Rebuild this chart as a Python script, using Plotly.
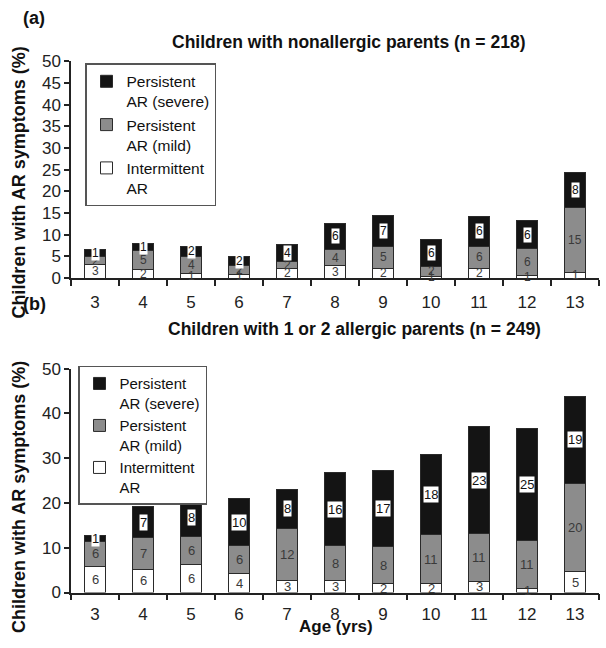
import plotly.graph_objects as go

W, H = 606, 648

ages = ["3", "4", "5", "6", "7", "8", "9", "10", "11", "12", "13"]

# Panel (a): children with nonallergic parents (% heights)
a_int = [3.1, 2.0, 1.1, 0.9, 2.3, 2.8, 2.3, 0.4, 2.2, 0.7, 1.3]
a_mild = [1.9, 4.4, 3.9, 1.9, 1.6, 3.8, 5.0, 2.3, 5.2, 6.1, 15.0]
a_sev = [1.5, 1.5, 2.4, 2.3, 3.8, 6.1, 7.1, 6.3, 6.9, 6.5, 8.1]
# counts printed in the segments
a_int_lab = ["3", "2", "1", "1", "2", "3", "2", "1", "2", "1", "1"]
a_mild_lab = ["2", "5", "4", "2", "2", "4", "5", "2", "6", "6", "15"]
a_sev_lab = ["1", "1", "2", "2", "4", "6", "7", "6", "6", "6", "8"]

# Panel (b): children with 1 or 2 allergic parents
b_int = [5.8, 5.2, 6.3, 4.2, 2.8, 2.7, 2.0, 2.0, 2.5, 0.9, 4.6]
b_mild = [5.7, 7.0, 6.2, 6.2, 11.6, 7.7, 8.3, 10.9, 10.6, 10.8, 19.8]
b_sev = [1.3, 7.0, 8.3, 10.7, 8.7, 16.3, 17.0, 18.0, 24.0, 25.0, 19.4]
b_int_lab = ["6", "6", "6", "4", "3", "3", "2", "2", "3", "1", "5"]
b_mild_lab = ["6", "7", "6", "6", "12", "8", "8", "11", "11", "11", "20"]
b_sev_lab = ["1", "7", "8", "10", "8", "16", "17", "18", "23", "25", "19"]

series_names = ["Persistent<br>AR (severe)", "Persistent<br>AR (mild)", "Intermittent<br>AR"]
colors = {"sev": "#141414", "mild": "#8c8c8c", "int": "#ffffff"}

FONT = "Liberation Sans, Arial, Helvetica, sans-serif"

fig = go.Figure()


def add_panel(xa, ya, legend, ints, milds, sevs):
    for key, vals, name in [("int", ints, series_names[2]),
                            ("mild", milds, series_names[1]),
                            ("sev", sevs, series_names[0])]:
        fig.add_trace(go.Bar(
            x=ages, y=vals, name=name, xaxis=xa, yaxis=ya, legend=legend,
            marker=dict(color=colors[key], line=dict(color="#2a2a2a", width=1)),
            hoverinfo="skip",
        ))


add_panel("x", "y", "legend", a_int, a_mild, a_sev)
add_panel("x2", "y2", "legend2", b_int, b_mild, b_sev)

annotations = []


def add_labels(xr, yr, ints, milds, sevs, il, ml, sl, fs):
    for i in range(len(ages)):
        base = 0.0
        for vals, labs, kind in [(ints, il, "int"), (milds, ml, "mild"), (sevs, sl, "sev")]:
            mid = base + vals[i] / 2.0
            base += vals[i]
            if kind == "sev":
                annotations.append(dict(
                    x=i, y=mid, xref=xr, yref=yr, text=labs[i], showarrow=False,
                    font=dict(family=FONT, size=fs, color="#111"),
                    bgcolor="#ffffff", borderpad=0))
            else:
                annotations.append(dict(
                    x=i, y=mid, xref=xr, yref=yr, text=labs[i], showarrow=False,
                    font=dict(family=FONT, size=fs, color="#3a3a3a")))


add_labels("x", "y", a_int, a_mild, a_sev, a_int_lab, a_mild_lab, a_sev_lab, 12)
add_labels("x2", "y2", b_int, b_mild, b_sev, b_int_lab, b_mild_lab, b_sev_lab, 13)


def px(xp):
    return xp / W


def py(yp):
    # vertical placement in page pixels (calibrated to the rendered picture)
    return 1 - ((yp - 8.5) / 0.9756) / H


# panel letters and titles
annotations += [
    dict(text="<b>(a)</b>", x=px(21), y=py(18), xref="paper", yref="paper",
         xanchor="left", yanchor="middle", showarrow=False,
         font=dict(family=FONT, size=18, color="#111")),
    dict(text="<b>Children with nonallergic parents (n = 218)</b>", x=px(348), y=py(42),
         xref="paper", yref="paper", xanchor="center", yanchor="middle", showarrow=False,
         font=dict(family=FONT, size=17.5, color="#111")),
    dict(text="<b>(b)</b>", x=px(21), y=py(305), xref="paper", yref="paper",
         xanchor="left", yanchor="middle", showarrow=False,
         font=dict(family=FONT, size=18, color="#111")),
    dict(text="<b>Children with 1 or 2 allergic parents (n = 249)</b>", x=px(354), y=py(330),
         xref="paper", yref="paper", xanchor="center", yanchor="middle", showarrow=False,
         font=dict(family=FONT, size=17.5, color="#111")),
    dict(text="<b>Children with AR symptoms (%)</b>", x=px(19), y=py(183), textangle=-90,
         xref="paper", yref="paper", xanchor="center", yanchor="middle", showarrow=False,
         font=dict(family=FONT, size=18, color="#111")),
    dict(text="<b>Children with AR symptoms (%)</b>", x=px(19), y=py(499), textangle=-90,
         xref="paper", yref="paper", xanchor="center", yanchor="middle", showarrow=False,
         font=dict(family=FONT, size=18, color="#111")),
    dict(text="<b>Age (yrs)</b>", x=px(336), y=0, xref="paper", yref="paper",
         xanchor="center", yanchor="bottom", showarrow=False,
         font=dict(family=FONT, size=17, color="#111")),
]

xdom = [px(71), px(599)]
axis_common = dict(showline=True, linecolor="#222", linewidth=1.5, ticks="outside",
                   tickcolor="#222", tickwidth=1.5, showgrid=False, zeroline=False,
                   tickfont=dict(family=FONT, size=17, color="#222"))

fig.update_layout(
    width=W, height=H,
    margin=dict(l=0, r=0, t=0, b=0),
    paper_bgcolor="white", plot_bgcolor="white",
    barmode="stack", bargap=0.58,
    font=dict(family=FONT, color="#111"),
    xaxis=dict(domain=xdom, anchor="y", type="category", tickson="boundaries",
               range=[-0.5, len(ages) - 0.5], ticklen=6, ticklabelstandoff=8,
               **axis_common),
    yaxis=dict(domain=[py(279), py(61)], anchor="x", range=[0, 50], dtick=5,
               ticklen=5, **axis_common),
    xaxis2=dict(domain=xdom, anchor="y2", type="category", tickson="boundaries",
                range=[-0.5, len(ages) - 0.5], ticklen=6, ticklabelstandoff=5,
                **axis_common),
    yaxis2=dict(domain=[py(595), py(370)], anchor="x2", range=[0, 50], dtick=10,
                ticklen=5, **axis_common),
    legend=dict(x=px(85), y=py(63), xanchor="left", yanchor="top",
                traceorder="reversed", valign="top", tracegroupgap=0,
                bgcolor="white", bordercolor="#555", borderwidth=1.5,
                font=dict(family=FONT, size=15.5, color="#111"),
                itemclick=False, itemdoubleclick=False),
    legend2=dict(x=px(78), y=py(367), xanchor="left", yanchor="top",
                 traceorder="reversed", valign="top", tracegroupgap=0,
                 bgcolor="white", bordercolor="#555", borderwidth=1.5,
                 font=dict(family=FONT, size=15, color="#111"),
                 itemclick=False, itemdoubleclick=False),
    annotations=annotations,
)

fig.write_html(
    "out.html",
    config={"displayModeBar": False},
    post_script="document.body.style.margin='0';document.body.style.overflow='hidden';",
)
